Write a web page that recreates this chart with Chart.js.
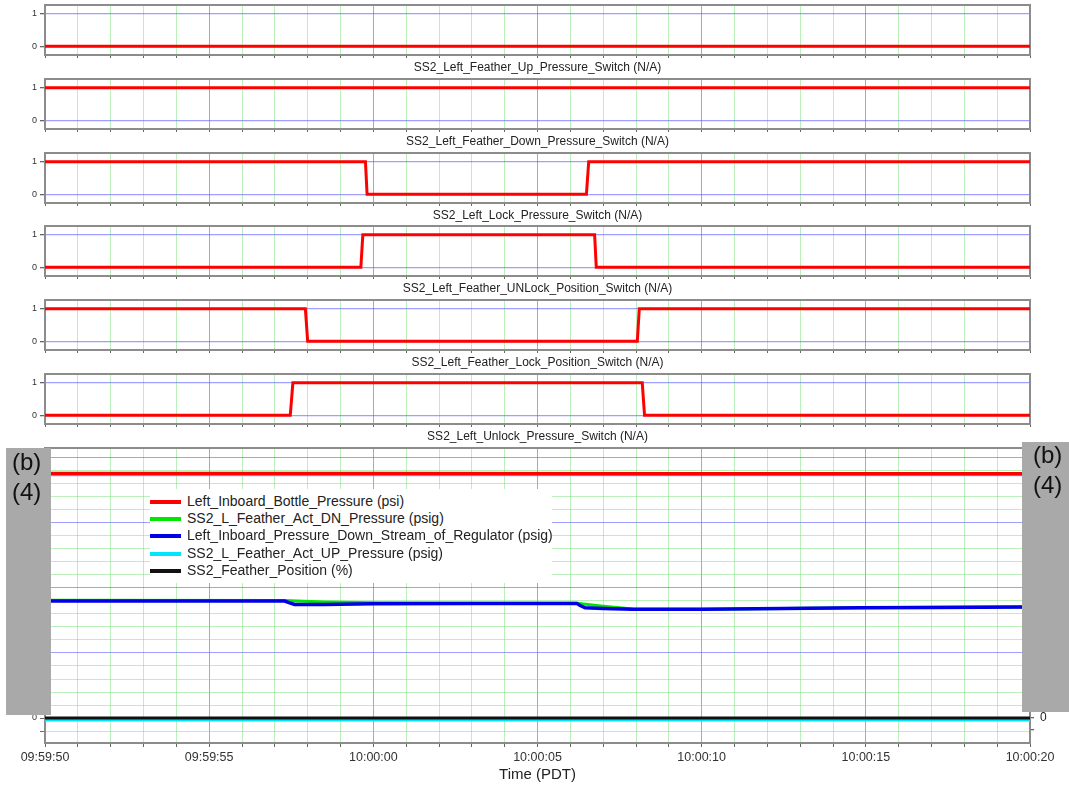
<!DOCTYPE html>
<html>
<head>
<meta charset="utf-8">
<script src="https://cdn.jsdelivr.net/npm/chart.js@4.4.1/dist/chart.umd.min.js"></script>
<style>
  html, body { margin: 0; padding: 0; background: #fff; }
  body { width: 1069px; height: 786px; position: relative; overflow: hidden;
         font-family: "Liberation Sans", Arial, sans-serif; }
  canvas { position: absolute; left: 0; }
  .redact { position: absolute; background: #a9a9a9; color: #111; font-size: 24px; line-height: 30px; }
  .redact span { position: absolute; white-space: pre; }
  #legend { position: absolute; left: 150px; top: 489px; width: 402px; height: 94px;
            background: #fff; box-sizing: border-box; padding-top: 4px; }
  #legend .row { position: relative; height: 17.2px; line-height: 17.2px; font-size: 14px; color: #222; white-space: nowrap; }
  #legend .swatch { position: absolute; left: 0; top: 7px; width: 31px; height: 4px; }
  #legend .name { position: absolute; left: 37px; top: 0; }
</style>
</head>
<body>
<script>
// ---- time axis (seconds after 09:59:50) ----
const spanSeconds = 30;
const timeTickLabels = ['09:59:50', '09:59:55', '10:00:00', '10:00:05', '10:00:10', '10:00:15', '10:00:20'];
const timeAxisTitle = 'Time (PDT)';

// ---- discrete switch channels: sample times and states ----
const switchTitles = [
  'SS2_Left_Feather_Up_Pressure_Switch (N/A)',
  'SS2_Left_Feather_Down_Pressure_Switch (N/A)',
  'SS2_Left_Lock_Pressure_Switch (N/A)',
  'SS2_Left_Feather_UNLock_Position_Switch (N/A)',
  'SS2_Left_Feather_Lock_Position_Switch (N/A)',
  'SS2_Left_Unlock_Pressure_Switch (N/A)'
];
const upPressureSwitchTime = [0, 30];
const upPressureSwitchState = [0, 0];
const downPressureSwitchTime = [0, 30];
const downPressureSwitchState = [1, 1];
const lockPressureSwitchTime = [0, 9.76, 9.81, 16.49, 16.56, 30];
const lockPressureSwitchState = [1, 1, 0, 0, 1, 1];
const unlockPositionSwitchTime = [0, 9.62, 9.68, 16.74, 16.79, 30];
const unlockPositionSwitchState = [0, 0, 1, 1, 0, 0];
const lockPositionSwitchTime = [0, 7.93, 8.0, 18.04, 18.1, 30];
const lockPositionSwitchState = [1, 1, 0, 0, 1, 1];
const unlockPressureSwitchTime = [0, 7.47, 7.55, 18.19, 18.26, 30];
const unlockPressureSwitchState = [0, 0, 1, 1, 0, 0];
const switchStateTicks = [0, 1];

// ---- analog channels ----
const seriesNames = [
  'Left_Inboard_Bottle_Pressure (psi)',
  'SS2_L_Feather_Act_DN_Pressure (psig)',
  'Left_Inboard_Pressure_Down_Stream_of_Regulator (psig)',
  'SS2_L_Feather_Act_UP_Pressure (psig)',
  'SS2_Feather_Position (%)'
];
const bottlePressureTime = [0, 10, 20, 30];
const bottlePressurePsi = [5050, 5050, 5045, 5048];
const actDnPressureTime = [0, 7.3, 8.5, 10, 13, 16.2, 17.0, 17.9, 20, 22.5, 24.8, 27, 30];
const actDnPressurePsig = [905, 904, 893, 886, 883, 883, 860, 839, 837, 843, 849, 851, 855];
const regulatorPressureTime = [0, 7.3, 7.45, 7.6, 8.5, 10, 13, 16.2, 16.3, 16.45, 17.0, 17.9, 20, 22.5, 24.8, 27, 30];
const regulatorPressurePsig = [900, 900, 885, 873, 874, 879, 880, 880, 865, 848, 842, 836, 836, 842, 848, 850, 854];
const actUpPressureTime = [0, 30];
const actUpPressurePsig = [-15, -15];
const featherPositionTime = [0, 30];
const featherPositionPct = [0, 0];

// ---- styling helpers ----
Chart.defaults.font.family = "'Liberation Sans', Arial, sans-serif";
const GRID_BLUE = 'rgba(95, 95, 255, 0.6)';
const GRID_GREEN = 'rgba(120, 225, 120, 0.5)';
const TICK_GREY = '#666';

const pts = (t, v) => t.map((x, i) => ({ x, y: v[i] }));
const range = (a, b, s) => { const r = []; for (let v = a; v <= b + 1e-9; v += s) r.push({ value: Math.round(v * 1000) / 1000 }); return r; };
const xGridColor = c => (c.tick && c.tick.value % 5 === 0) ? GRID_BLUE : GRID_GREEN;

// grey frame around each plot area
const framePlugin = {
  id: 'plotFrame',
  beforeDatasetsDraw(chart) {
    const { ctx, chartArea: a } = chart;
    ctx.save();
    ctx.strokeStyle = '#8c8c8c';
    ctx.lineWidth = 2;
    ctx.strokeRect(a.left, a.top, a.right - a.left, a.bottom - a.top);
    ctx.restore();
  }
};

function addCanvas(top, height) {
  const cv = document.createElement('canvas');
  cv.width = 1069; cv.height = height;
  cv.style.top = top + 'px';
  cv.style.width = '1069px'; cv.style.height = height + 'px';
  document.body.appendChild(cv);
  return cv;
}

function switchPanel(index, times, states) {
  const areaTop = 5 + 73.8 * index;
  const cv = addCanvas(areaTop - 14, 86);
  new Chart(cv, {
    type: 'line',
    data: { datasets: [{ data: pts(times, states), borderColor: '#ff0000', borderWidth: 3,
                         pointRadius: 0, tension: 0, fill: false }] },
    options: {
      responsive: false, animation: false, events: [],
      layout: { padding: { top: 14, right: 39, left: 0, bottom: 0 } },
      plugins: { legend: { display: false }, tooltip: { enabled: false } },
      scales: {
        x: {
          type: 'linear', min: 0, max: spanSeconds,
          afterBuildTicks: s => { s.ticks = range(0, spanSeconds, 1); },
          afterFit: s => { s.height = 22; },
          ticks: { display: false, autoSkip: false },
          grid: { color: xGridColor, tickColor: TICK_GREY, tickLength: 3, lineWidth: 1 },
          border: { display: false },
          title: { display: true, text: switchTitles[index], color: '#222',
                   font: { size: 12 }, padding: { top: 0, bottom: 2.5 } }
        },
        y: {
          type: 'linear', min: -0.267, max: 1.267,
          afterBuildTicks: s => { s.ticks = switchStateTicks.map(v => ({ value: v })); },
          afterFit: s => { s.width = 45; },
          ticks: { color: '#333', font: { size: 9 }, padding: 3, autoSkip: false },
          grid: { color: GRID_BLUE, tickColor: TICK_GREY, tickLength: 5, lineWidth: 1.3 },
          border: { display: false }
        }
      }
    },
    plugins: [framePlugin]
  });
}

switchPanel(0, upPressureSwitchTime, upPressureSwitchState);
switchPanel(1, downPressureSwitchTime, downPressureSwitchState);
switchPanel(2, lockPressureSwitchTime, lockPressureSwitchState);
switchPanel(3, unlockPositionSwitchTime, unlockPositionSwitchState);
switchPanel(4, lockPositionSwitchTime, lockPositionSwitchState);
switchPanel(5, unlockPressureSwitchTime, unlockPressureSwitchState);

// ---- pressure panel ----
const mainCanvas = addCanvas(428, 358);
const mainChart = new Chart(mainCanvas, {
  type: 'line',
  data: {
    datasets: [
      { label: seriesNames[0], data: pts(bottlePressureTime, bottlePressurePsi), yAxisID: 'yR',
        borderColor: '#ff0000', borderWidth: 3.5, order: 1 },
      { label: seriesNames[1], data: pts(actDnPressureTime, actDnPressurePsig), yAxisID: 'y',
        borderColor: '#00e600', borderWidth: 3, order: 3 },
      { label: seriesNames[2], data: pts(regulatorPressureTime, regulatorPressurePsig), yAxisID: 'y',
        borderColor: '#0000e6', borderWidth: 3.5, order: 2 },
      { label: seriesNames[3], data: pts(actUpPressureTime, actUpPressurePsig), yAxisID: 'y',
        borderColor: '#00e5ff', borderWidth: 3, order: 5 },
      { label: seriesNames[4], data: pts(featherPositionTime, featherPositionPct), yAxisID: 'y',
        borderColor: '#111111', borderWidth: 3, order: 4 }
    ]
  },
  options: {
    responsive: false, animation: false, events: [],
    elements: { point: { radius: 0 }, line: { tension: 0, fill: false } },
    layout: { padding: { top: 20, right: 0, left: 0, bottom: 0 } },
    plugins: { legend: { display: false }, tooltip: { enabled: false } },
    scales: {
      x: {
        type: 'linear', min: 0, max: spanSeconds,
        afterBuildTicks: s => { s.ticks = range(0, spanSeconds, 1); },
        afterFit: s => { s.height = 43; },
        ticks: { autoSkip: false, maxRotation: 0, padding: 3, color: '#333', font: { size: 12.5 },
                 callback: v => (v % 5 === 0 ? timeTickLabels[v / 5] : '') },
        grid: { color: xGridColor, tickColor: TICK_GREY, tickLength: 4, lineWidth: 1 },
        border: { display: false },
        title: { display: true, text: timeAxisTitle, color: '#222', font: { size: 15 },
                 padding: { top: 0, bottom: 2 } }
      },
      y: {
        type: 'linear', position: 'left', min: -192.3, max: 2076.9,
        afterBuildTicks: s => { s.ticks = range(-100, 2000, 100); },
        afterFit: s => { s.width = 45; },
        ticks: { autoSkip: false, color: '#333', font: { size: 9 }, padding: 3,
                 callback: v => (v === 0 ? '0' : '') },
        grid: { color: c => (c.tick && c.tick.value % 500 === 0) ? GRID_BLUE : GRID_GREEN,
                tickColor: TICK_GREY, tickLength: 5, lineWidth: 1 },
        border: { display: false }
      },
      yR: {
        type: 'linear', position: 'right', min: -516.5, max: 5578.5,
        afterBuildTicks: s => { s.ticks = range(-250, 5500, 250); },
        afterFit: s => { s.width = 39; },
        ticks: { autoSkip: false, color: '#222', font: { size: 12 }, padding: 6,
                 callback: v => (v === 0 ? '0' : '') },
        grid: { color: c => (c.tick && c.tick.value === 5000) ? GRID_BLUE : 'rgba(0,0,0,0)',
                tickColor: TICK_GREY, tickLength: 4, lineWidth: 1.3 },
        border: { display: false }
      }
    }
  },
  plugins: [framePlugin]
});

// ---- legend built from the pressure datasets ----
const legend = document.createElement('div');
legend.id = 'legend';
mainChart.data.datasets.forEach(ds => {
  const row = document.createElement('div');
  row.className = 'row';
  const sw = document.createElement('div');
  sw.className = 'swatch';
  sw.style.background = ds.borderColor;
  const nm = document.createElement('div');
  nm.className = 'name';
  nm.textContent = ds.label;
  row.appendChild(sw); row.appendChild(nm);
  legend.appendChild(row);
});
document.body.appendChild(legend);

// ---- withheld-scale blocks over the pressure axes ----
function redactBlock(left, top, width, height, textLeft, textTop) {
  const b = document.createElement('div');
  b.className = 'redact';
  b.style.cssText += `left:${left}px;top:${top}px;width:${width}px;height:${height}px;`;
  const s1 = document.createElement('span');
  s1.textContent = '(b)';
  s1.style.left = textLeft + 'px'; s1.style.top = textTop + 'px';
  const s2 = document.createElement('span');
  s2.textContent = '(4)';
  s2.style.left = textLeft + 'px'; s2.style.top = (textTop + 30) + 'px';
  b.appendChild(s1); b.appendChild(s2);
  document.body.appendChild(b);
}
redactBlock(6, 448, 45, 267, 6, -1);
redactBlock(1022, 442, 47, 270, 11, -2);
</script>
</body>
</html>
